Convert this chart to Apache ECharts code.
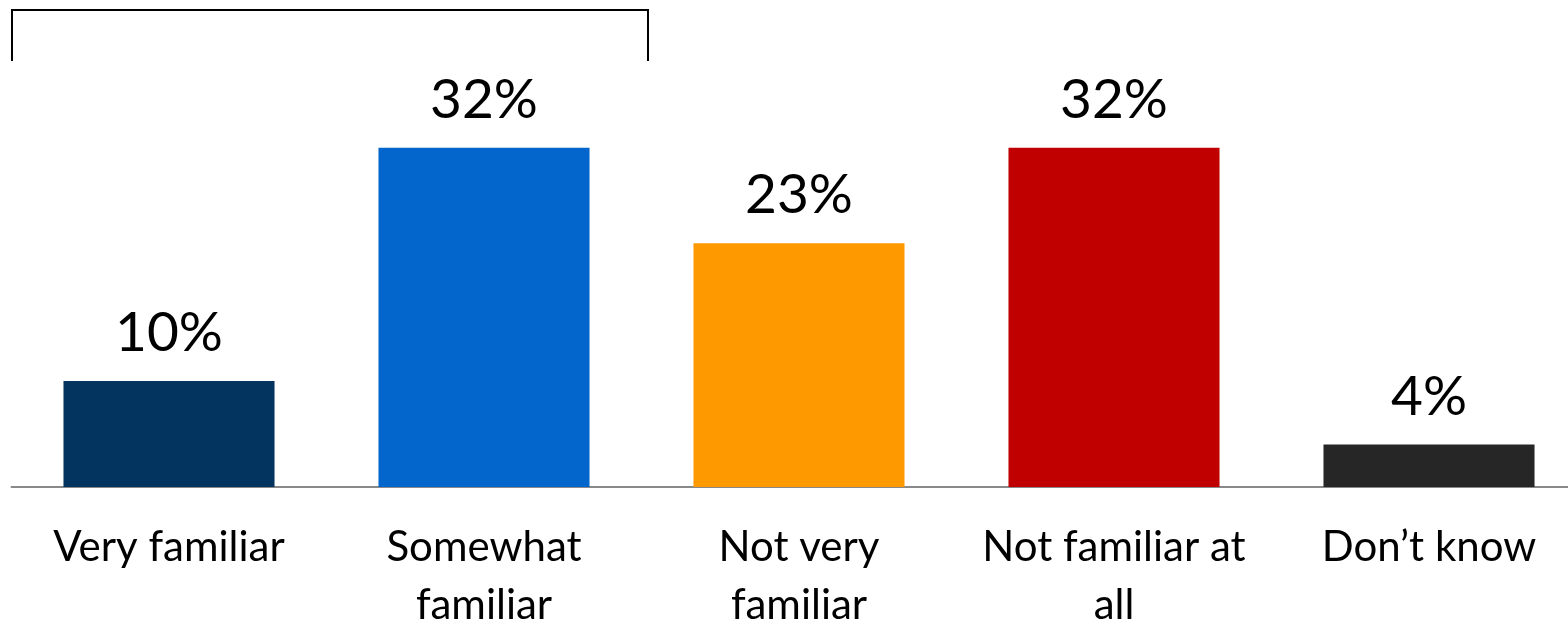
<!DOCTYPE html>
<html>
<head>
<meta charset="utf-8">
<script src="https://cdn.jsdelivr.net/npm/echarts@6/dist/echarts.min.js"></script>
<style>
html,body{margin:0;padding:0;background:#fff;}
#chart{width:1568px;height:624px;}
</style>
</head>
<body>
<div id="chart"></div>
<script>
const categories = ['Very familiar', 'Somewhat\nfamiliar', 'Not very\nfamiliar', 'Not familiar at\nall', 'Don\u2019t know'];
const values = [10, 32, 23, 32, 4];
const barColors = ['#03345F', '#0366CC', '#FF9900', '#C00000', '#262626'];

const chart = echarts.init(document.getElementById('chart'));
const FONT = 'Lato';
chart.setOption({
  animation: false,
  backgroundColor: '#ffffff',
  grid: { left: 11.5, width: 1575, top: 63, bottom: 137, containLabel: false, outerBoundsMode: 'none' },
  xAxis: {
    type: 'category',
    data: categories,
    axisLine: { show: true, lineStyle: { color: '#898989', width: 2 } },
    axisTick: { show: false },
    axisLabel: { color: '#000', fontFamily: FONT, fontSize: 42, lineHeight: 58, margin: 31, interval: 0, hideOverlap: false }
  },
  yAxis: {
    type: 'value', min: 0, max: 40,
    show: false, splitLine: { show: false }
  },
  series: [{
    type: 'bar',
    data: values.map((v, i) => ({ value: v, itemStyle: { color: barColors[i] } })),
    barCategoryGap: '33%',
    label: {
      show: true, position: 'top', distance: 20,
      formatter: p => p.value + '%',
      color: '#000', fontFamily: FONT, fontSize: 55
    }
  }],
  graphic: [{
    type: 'polyline',
    shape: { points: [[12, 61], [12, 10], [648, 10], [648, 61]] },
    style: { stroke: '#000', lineWidth: 2, fill: null }
  }]
});
</script>
</body>
</html>
